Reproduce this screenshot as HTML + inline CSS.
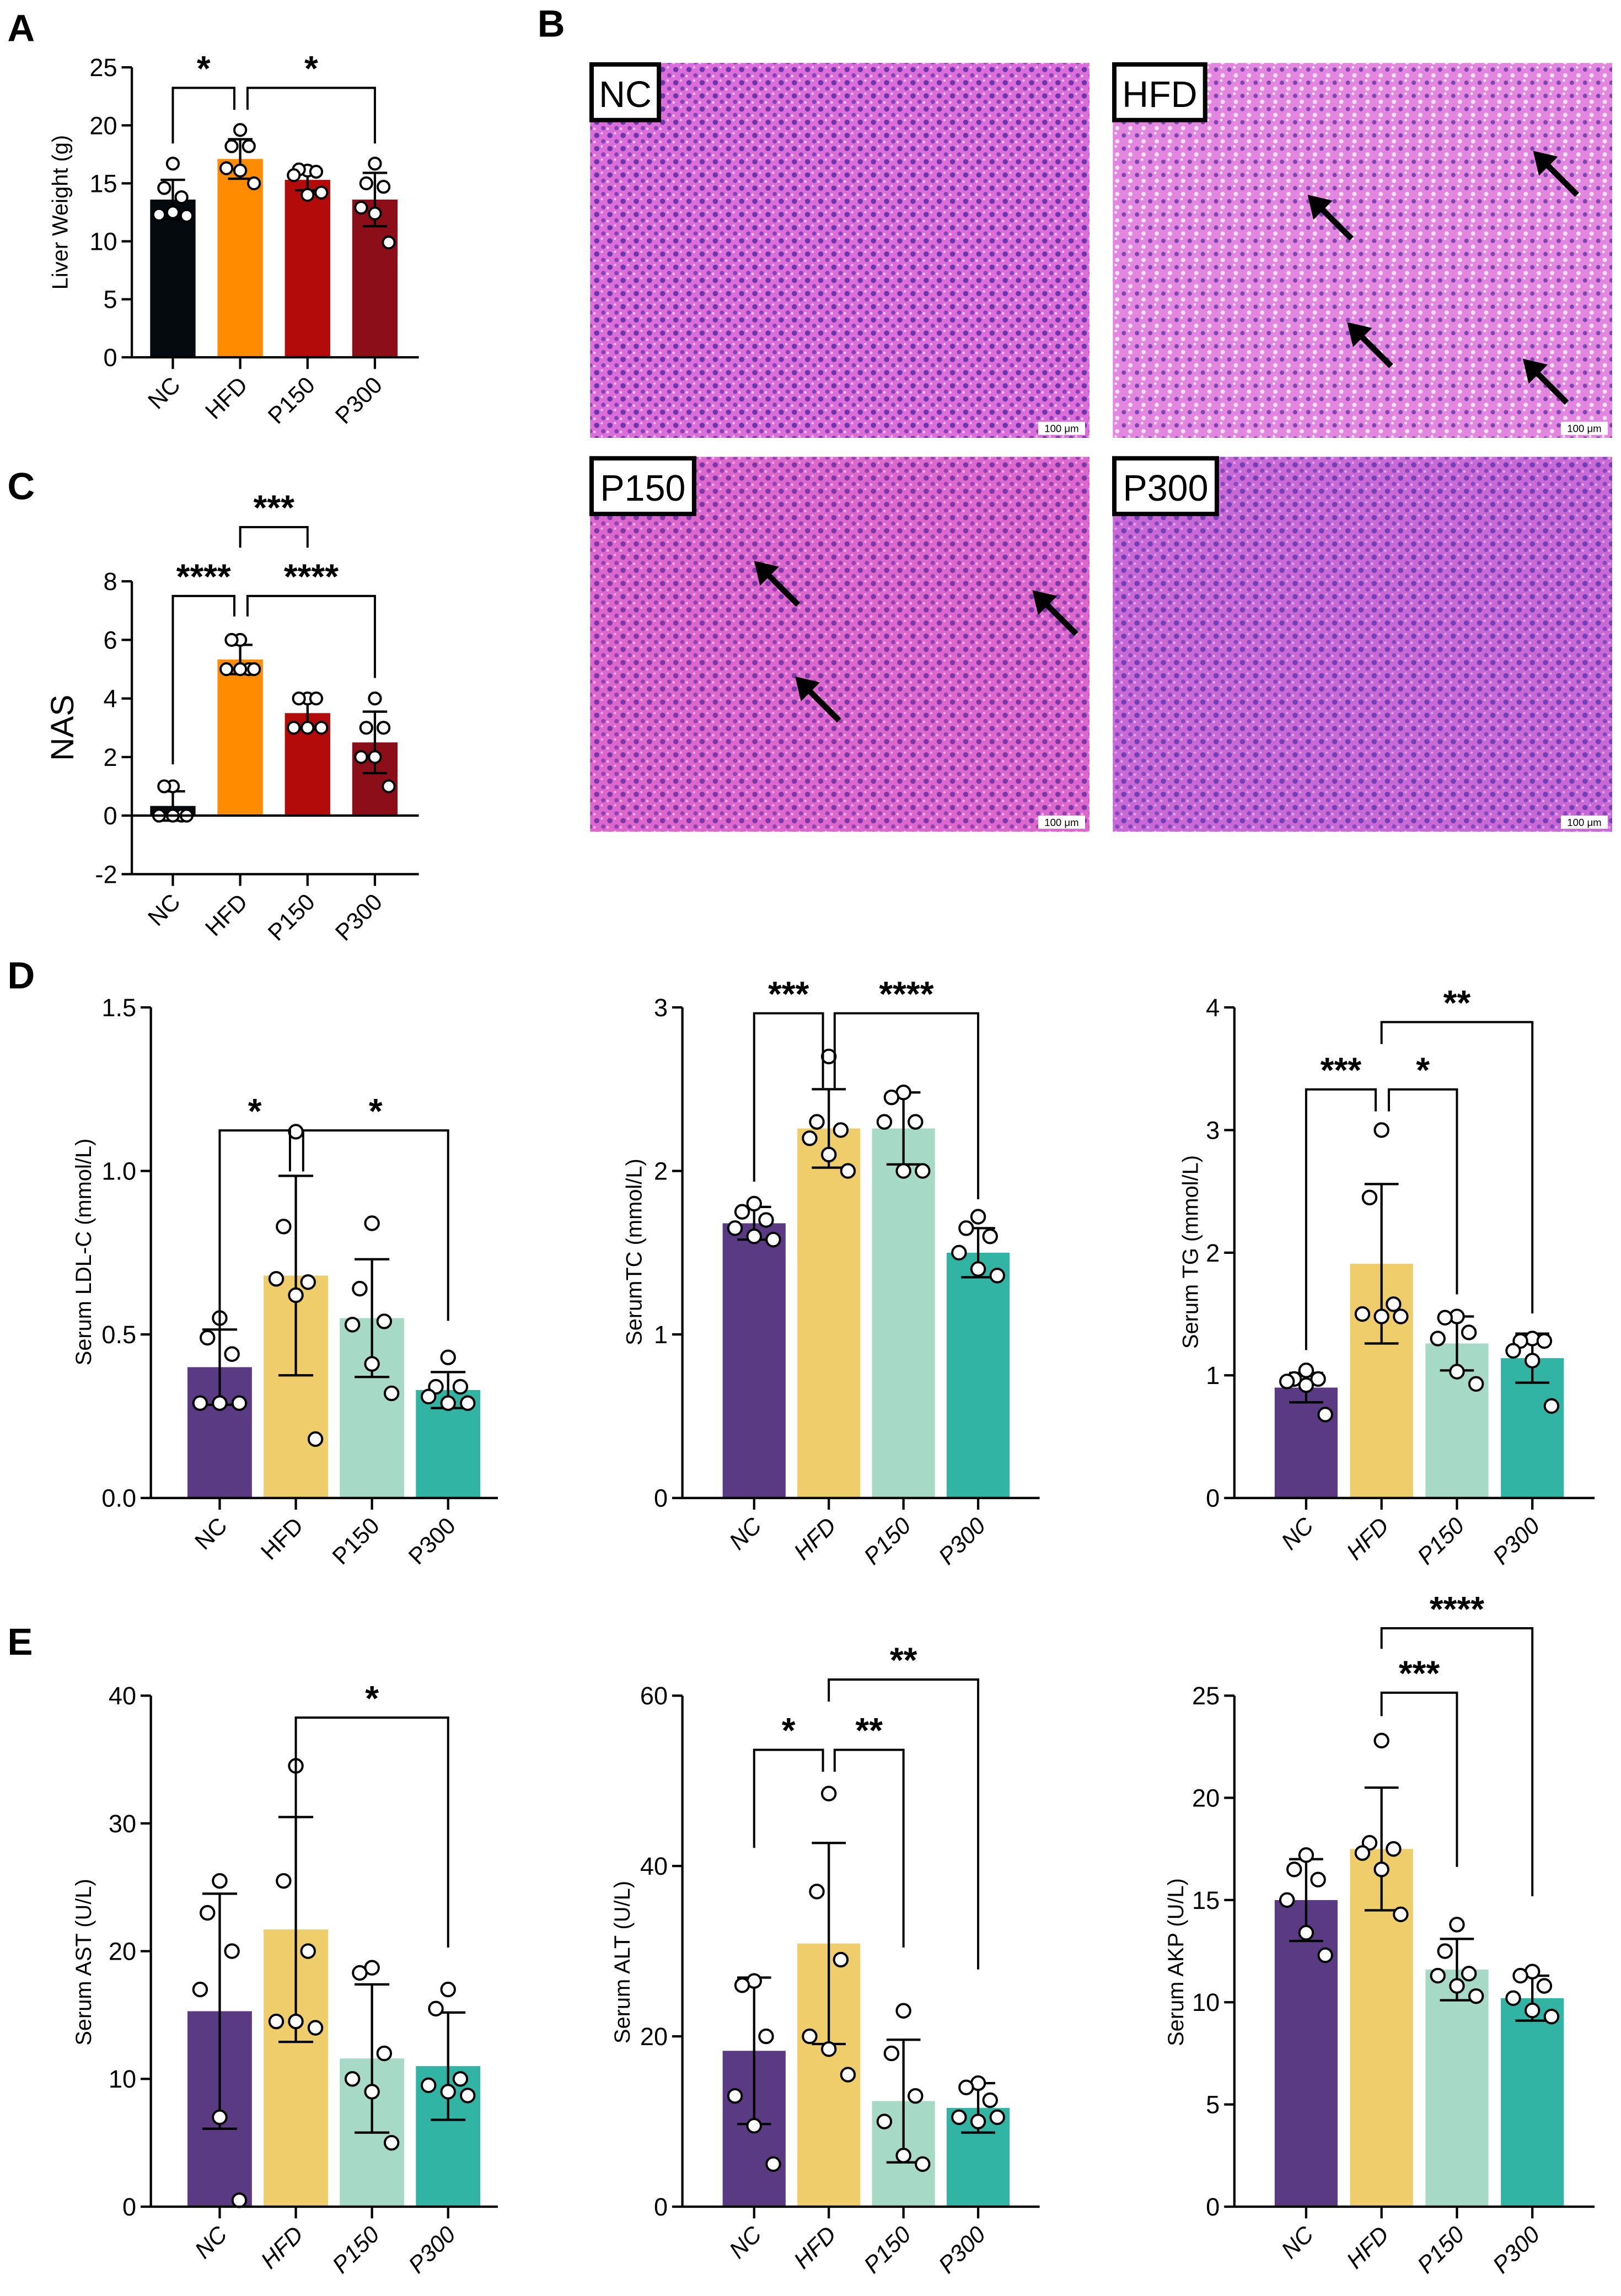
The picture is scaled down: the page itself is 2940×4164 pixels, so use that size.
<!DOCTYPE html>
<html><head><meta charset="utf-8">
<style>
html,body{margin:0;padding:0;background:#fff;}
svg{display:block;}
text{font-family:"Liberation Sans",Arial,sans-serif;}
</style></head>
<body>
<svg id="fig" width="2940" height="4164" viewBox="0 0 1107 1568" xmlns="http://www.w3.org/2000/svg">
<defs>
<pattern id="cells" width="9" height="9" patternUnits="userSpaceOnUse">
<rect width="9" height="9" fill="#dc6ed9"/>
<circle cx="2.5" cy="2.5" r="1.8" fill="#4f28a0" opacity="0.8"/>
<circle cx="7" cy="6.5" r="1.5" fill="#5f2ea8" opacity="0.7"/>
<circle cx="6" cy="1" r="0.8" fill="#f4c4f0"/>
<circle cx="1" cy="7" r="0.9" fill="#f4c4f0"/>
</pattern>
<pattern id="cells2" width="9" height="9" patternUnits="userSpaceOnUse">
<rect width="9" height="9" fill="#e286df"/>
<circle cx="2.5" cy="2.5" r="1.5" fill="#5a2ea0" opacity="0.75"/>
<circle cx="7" cy="6.5" r="1.5" fill="#f8e0f6"/>
<circle cx="6" cy="1" r="0.9" fill="#fbe8f9"/>
</pattern>
</defs>
</svg>
<script>
const cats = ['NC','HFD','P150','P300'];
// Panel A liver weight
const lwMean = [13.6, 17.1, 15.3, 13.6];
const lwSd = [1.7, 1.7, 0.9, 2.3];
const lwPts = [[16.7,14.6,13.8,12.3,12.5,12.2],[19.6,18.2,18.2,16.3,16.1,15.0],[16.1,16.2,16.0,15.7,14.0,14.2],[16.7,15.0,14.7,12.9,12.4,9.9]];
const lwTicks = [0,5,10,15,20,25];
// Panel C NAS
const nasMean = [0.33, 5.33, 3.5, 2.5];
const nasSd = [0.5, 0.5, 0.55, 1.05];
const nasPts = [[1,1,0,0,0,0],[6,6,5,5,5,5],[4,4,4,3,3,3],[4,3,3,2,2,1]];
const nasTicks = [-2,0,2,4,6,8];
// Panel D
const ldlMean = [0.40, 0.68, 0.55, 0.33];
const ldlSd = [0.115, 0.305, 0.18, 0.055];
const ldlPts = [[0.55,0.49,0.44,0.29,0.29,0.29],[1.12,0.83,0.66,0.67,0.62,0.18],[0.84,0.64,0.54,0.53,0.41,0.32],[0.43,0.34,0.34,0.31,0.29,0.29]];
const ldlTicks = [0.0,0.5,1.0,1.5];
const tcMean = [1.68, 2.26, 2.26, 1.50];
const tcSd = [0.10, 0.24, 0.22, 0.15];
const tcPts = [[1.8,1.75,1.7,1.65,1.6,1.58],[2.7,2.3,2.25,2.2,2.1,2.0],[2.48,2.45,2.3,2.3,2.0,2.0],[1.72,1.65,1.6,1.5,1.4,1.36]];
const tcTicks = [0,1,2,3];
const tgMean = [0.90, 1.91, 1.26, 1.14];
const tgSd = [0.12, 0.65, 0.22, 0.20];
const tgPts = [[1.04,0.97,0.97,0.95,0.92,0.68],[3.0,2.45,1.58,1.5,1.48,1.48],[1.48,1.47,1.35,1.3,1.03,0.93],[1.3,1.28,1.28,1.2,1.12,0.75]];
const tgTicks = [0,1,2,3,4];
// Panel E
const astMean = [15.3, 21.7, 11.6, 11.0];
const astSd = [9.2, 8.8, 5.8, 4.2];
const astPts = [[25.5,23,20,17,7,0.5],[34.5,25.5,20,14.5,14.5,14],[18.7,18.3,12,10,9,5],[17,15.5,10,9.5,9,8.7]];
const astTicks = [0,10,20,30,40];
const altMean = [18.3, 30.9, 12.4, 11.6];
const altSd = [8.6, 11.8, 7.2, 2.9];
const altPts = [[26.5,26,20,13,9.5,5],[48.5,37,29,20,18.5,15.5],[23,18,13,10,6,5],[14.5,14,12.5,10.5,10,10.5]];
const altTicks = [0,20,40,60];
const akpMean = [15.0, 17.5, 11.6, 10.2];
const akpSd = [2.0, 3.0, 1.5, 1.1];
const akpPts = [[17.2,16.5,16,15,13.4,12.3],[22.8,17.8,17.5,17.3,16.5,14.3],[13.8,12.5,11.4,11.3,10.8,10.3],[11.5,11.3,10.8,10.2,9.6,9.3]];
const akpTicks = [0,5,10,15,20,25];

const NS='http://www.w3.org/2000/svg';
const svg=document.getElementById('fig');
function el(tag,attrs,parent,txt){const e=document.createElementNS(NS,tag);for(const k in attrs)e.setAttribute(k,attrs[k]);if(txt!==undefined)e.textContent=txt;(parent||svg).appendChild(e);return e;}

const darkCols=['#050a0f','#ff8c00','#b30a0a','#8b0e18'];
const paleCols=['#5a3a82','#efcd6b','#a6dac6','#31b4a4'];
const jit=[0,-0.5,0.5,-0.8,0,0.8];

function chart(o){
  const g=el('g',{});
  
  
  const ymin=o.ticks[0], ymax=o.ticks[o.ticks.length-1];
  const Y=v=>o.y0-(v-ymin)/(ymax-ymin)*(o.y0-o.yTop);
  const X=i=>o.x0+o.c0+i*o.step;
  const base=Y(Math.max(0,ymin));
  o.mean.forEach((m,i)=>{
    const b=el('rect',{x:X(i)-o.bw/2,y:Math.min(Y(m),base),width:o.bw,height:Math.abs(base-Y(m)),fill:o.cols[i]},g);
    
    
  });
  o.mean.forEach((m,i)=>{
    const x=X(i),hw=o.bw*0.27;
    const eg=el('g',{stroke:'#000','stroke-width':1.6,fill:'none'},g);
    
    
    el('line',{x1:x,x2:x,y1:Y(m+o.sd[i]),y2:Y(m-o.sd[i])},eg);
    el('line',{x1:x-hw,x2:x+hw,y1:Y(m+o.sd[i]),y2:Y(m+o.sd[i])},eg);
    el('line',{x1:x-hw,x2:x+hw,y1:Y(m-o.sd[i]),y2:Y(m-o.sd[i])},eg);
  });
  o.pts.forEach((arr,i)=>{
    arr.forEach((v,j)=>{
      const c=el('circle',{cx:X(i)+jit[j]*o.bw*0.38,cy:Y(v),r:o.r||4.6,fill:'#fff',stroke:'#000','stroke-width':1.5},g);
      
      
    });
  });
  const ax=el('g',{stroke:'#000','stroke-width':1.6},g);
  
  
  el('line',{x1:o.x0,x2:o.x0,y1:o.yTop,y2:o.y0},ax);
  el('line',{x1:o.x0,x2:o.xEnd,y1:o.y0,y2:o.y0},ax);
  if(ymin<0) el('line',{x1:o.x0,x2:o.xEnd,y1:Y(0),y2:Y(0)},ax);
  o.ticks.forEach(t=>{
    el('line',{x1:o.x0-7,x2:o.x0,y1:Y(t),y2:Y(t)},ax);
    const tl=el('text',{x:o.x0-10,y:Y(t)+6,'text-anchor':'end','font-size':o.tfs||17,fill:'#000'},g,o.tfmt?o.tfmt(t):String(t));
    
    
  });
  cats.forEach((c,i)=>{
    el('line',{x1:X(i),x2:X(i),y1:o.y0,y2:o.y0+8},ax);
    const lx=X(i)+6,ly=o.y0+20;
    const t=el('text',{x:lx,y:ly,'text-anchor':'end','font-size':16,transform:`rotate(-45 ${lx} ${ly})`,'font-style':o.italic?'italic':'normal'},g,c);
    
    
  });
  const yl=el('text',{x:o.ylx,y:o.yly,'text-anchor':'middle','font-size':o.ylfs||15,transform:`rotate(-90 ${o.ylx} ${o.yly})`},g,o.ylabel);
  
  
  (o.brackets||[]).forEach(b=>{
    const x1=X(b[0])+(b[6]||0),x2=X(b[1])+(b[7]||0);
    const p=el('path',{d:`M${x1},${b[3]}V${b[2]}H${x2}V${b[4]}`,fill:'none',stroke:'#000','stroke-width':1.5},g);
    
    
    const s=el('text',{x:(x1+x2)/2,y:b[2]-5,'text-anchor':'middle','font-size':24,'font-weight':'bold'},g,b[5]);
    
    
  });
}

function letter(t,x,y){const e=el('text',{x:x,y:y,'font-size':26,'font-weight':'bold'},svg,t);}
letter('A',5,28);letter('B',367,25);letter('C',5,341);letter('D',5,675);letter('E',5,1130);

chart({name:'liver-weight-chart',x0:90,xEnd:286,y0:244,yTop:46,c0:28,step:46,bw:31,ticks:lwTicks,mean:lwMean,sd:lwSd,pts:lwPts,cols:darkCols,ylabel:'Liver Weight  (g)',ylx:46,yly:145,r:4,
 brackets:[[0,1,60,98,75,'*',0,-4],[1,3,60,75,98,'*',5,0]]});
chart({name:'nas-chart',x0:90,xEnd:286,y0:597,yTop:397,c0:28,step:46,bw:31,ticks:nasTicks,mean:nasMean,sd:nasSd,pts:nasPts,cols:darkCols,ylabel:'NAS',ylx:50,yly:497,ylfs:22,r:4,
 brackets:[[1,2,360,374,374,'***',0,0],[0,1,407,522,421,'****',0,-4],[1,3,407,421,463,'****',5,0]]});

chart({name:'ldl-chart',x0:103,xEnd:340,y0:1023,yTop:688,c0:47,step:52,bw:44,ticks:ldlTicks,mean:ldlMean,sd:ldlSd,pts:ldlPts,cols:paleCols,ylabel:'Serum LDL-C (mmol/L)',ylx:62,yly:855,tfmt:t=>t.toFixed(1),
 brackets:[[0,1,772,920,800,'*',0,-4],[1,3,772,800,902,'*',5,0]]});
chart({name:'tc-chart',x0:466,xEnd:710,y0:1023,yTop:688,c0:49,step:51,bw:43,ticks:tcTicks,mean:tcMean,sd:tcSd,pts:tcPts,cols:paleCols,ylabel:'SerumTC (mmol/L)',ylx:438,yly:855,italic:true,
 brackets:[[0,1,692,807,743,'***',0,-4],[1,3,692,743,819,'****',4,0]]});
chart({name:'tg-chart',x0:843,xEnd:1089,y0:1023,yTop:688,c0:49,step:51.5,bw:43,ticks:tgTicks,mean:tgMean,sd:tgSd,pts:tgPts,cols:paleCols,ylabel:'Serum TG (mmol/L)',ylx:818,yly:855,italic:true,
 brackets:[[0,1,744,922,759,'***',0,-4],[1,2,744,759,884,'*',5,0],[1,3,698,713,897,'**',0,0]]});

chart({name:'ast-chart',x0:103,xEnd:340,y0:1507,yTop:1158,c0:47,step:52,bw:44,ticks:astTicks,mean:astMean,sd:astSd,pts:astPts,cols:paleCols,ylabel:'Serum AST (U/L)',ylx:62,yly:1340,italic:true,
 brackets:[[1,3,1173,1253,1330,'*',0,0]]});
chart({name:'alt-chart',x0:466,xEnd:710,y0:1507,yTop:1158,c0:49,step:51,bw:43,ticks:altTicks,mean:altMean,sd:altSd,pts:altPts,cols:paleCols,ylabel:'Serum ALT (U/L)',ylx:430,yly:1340,italic:true,
 brackets:[[0,1,1195,1262,1210,'*',0,-4],[1,2,1195,1210,1330,'**',4,0],[1,3,1147,1162,1345,'**',0,0]]});
chart({name:'akp-chart',x0:843,xEnd:1089,y0:1507,yTop:1158,c0:49,step:51.5,bw:43,ticks:akpTicks,mean:akpMean,sd:akpSd,pts:akpPts,cols:paleCols,ylabel:'Serum AKP (U/L)',ylx:808,yly:1340,italic:true,
 brackets:[[1,2,1156,1172,1275,'***',0,0],[1,3,1112,1126,1295,'****',0,0]]});

const histo=[['NC',403,43,'url(#cells)'],['HFD',760,43,'url(#cells2)'],['P150',403,312,'url(#cells)'],['P300',760,312,'url(#cells)']];
const arrows={HFD:[[893,133],[1047,103],[920,220],[1040,245]],P150:[[515,383],[705,403],[543,462]]};
histo.forEach(h=>{
  const g=el('g',{});
  
  
  el('rect',{x:h[1],y:h[2],width:341,height:256,fill:h[3]},g);
  if(h[0]==='P300') el('rect',{x:h[1],y:h[2],width:341,height:256,fill:'#8a5ad0',opacity:0.25},g);
  if(h[0]==='P150') el('rect',{x:h[1],y:h[2],width:341,height:256,fill:'#e0408a',opacity:0.15},g);
  const bw=h[0].length>2?(h[0].length>3?70:62):46;
  el('rect',{x:h[1]+1,y:h[2]+1,width:bw,height:38,fill:'#fff',stroke:'#000','stroke-width':3},g);
  const t=el('text',{x:h[1]+bw/2+1,y:h[2]+30,'text-anchor':'middle','font-size':25},g,h[0]);
  
  
  el('rect',{x:h[1]+306,y:h[2]+245,width:32,height:9,fill:'#fff'},g);
  el('text',{x:h[1]+322,y:h[2]+252,'text-anchor':'middle','font-size':7,'font-family':'Liberation Serif'},g,'100 μm');
  (arrows[h[0]]||[]).forEach(a=>{
    const ar=el('g',{},g);
    
    
    el('line',{x1:a[0]+6,y1:a[1]+6,x2:a[0]+30,y2:a[1]+30,stroke:'#000','stroke-width':4},ar);
    el('polygon',{points:`${a[0]},${a[1]} ${a[0]+17},${a[1]+4} ${a[0]+4},${a[1]+17}`,fill:'#000'},ar);
  });
});
</script>
</body></html>
